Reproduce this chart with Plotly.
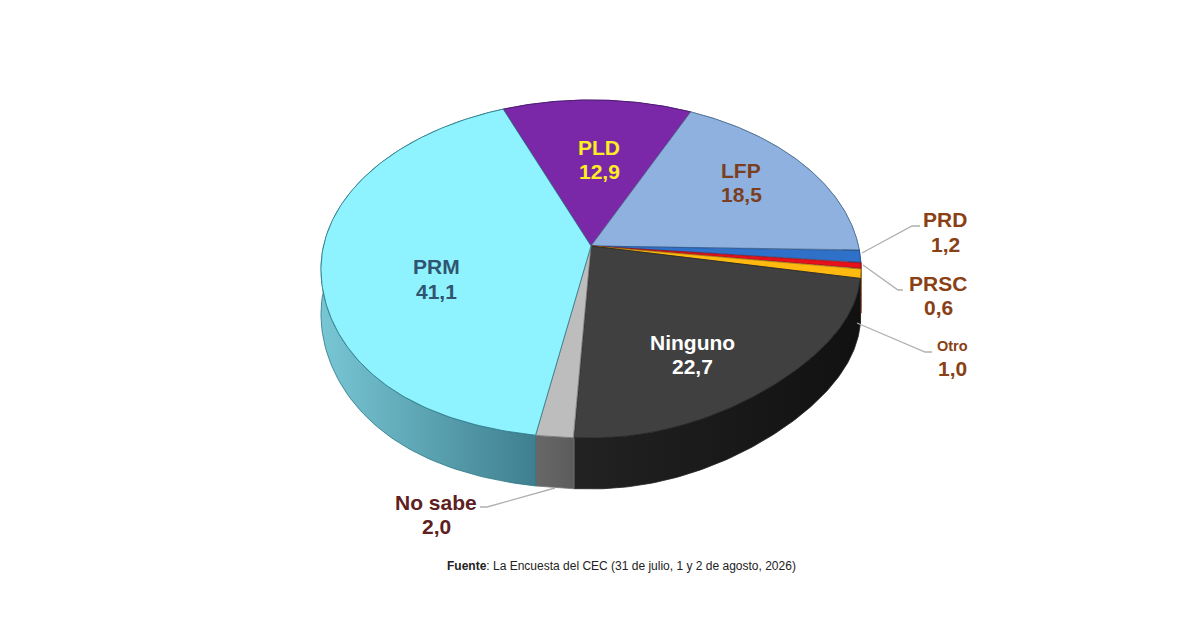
"""3D pie of the CEC survey, drawn as projected polygons so the tilt and perspective can be matched."""

import numpy as np
import plotly.graph_objects as go

# ── Data ─────────────────────────────────────────────────────────────────────

CATEGORIES = ["PLD", "LFP", "PRD", "PRSC", "Otro", "Ninguno", "No sabe", "PRM"]
VALUES = [12.9, 18.5, 1.2, 0.6, 1.0, 22.7, 2.0, 41.1]
VALUE_LABELS = ["12,9", "18,5", "1,2", "0,6", "1,0", "22,7", "2,0", "41,1"]

# ── Visual encoding ──────────────────────────────────────────────────────────

TOP_COLOR = ["#7a28a8", "#8eb1df", "#2f70c8", "#e8101a", "#ffb90f", "#404040", "#bdbdbd", "#8ff2ff"]
EDGE_COLOR = ["#4a1a70", "#51708f", "#24528f", "#90101a", "#a07a10", "#222222", "#777777", "#2a7686"]
WALL_LEFT = ["#55207a", "#6a8ab0", "#24528f", "#a00c14", "#c08c0a", "#222222", "#686868", "#78c6d4"]
WALL_RIGHT = ["#55207a", "#6a8ab0", "#24528f", "#a00c14", "#c08c0a", "#111111", "#5c5c5c", "#3f7f8f"]
TEXT_COLOR = ["#ffee22", "#7a3f22", "#8a4015", "#8a4015", "#8a4015", "#ffffff", "#5e2020", "#2f5570"]

FONT = "Liberation Sans"

# label centres, pixels: name then value
LABEL_POS = {
    "PLD": (599, 147, 171),
    "LFP": (741, 170, 194),
    "PRD": (945, 219, 244),
    "PRSC": (938, 283, 307),
    "Otro": (952, 346, 368),
    "Ninguno": (692, 342, 366),
    "No sabe": (436, 502, 526),
    "PRM": (436, 266, 291),
}

LEADERS = [
    [(862, 253), (912, 226), (920, 226)],
    [(863, 265), (898, 290), (903, 290)],
    [(857, 323), (925, 352), (932, 352)],
    [(555, 488), (487, 507), (480, 507)],
]

# ── Pie geometry ─────────────────────────────────────────────────────────────

CX, CY = 591, 246
RX, RY = 267.5, 165.9
PERSPECTIVE = 0.136
DEPTH = 44
START_DEG = -21.7
# the front of the disc is slightly skewed in the source: up on the right, down on the left
SKEW_RIGHT, SKEW_LEFT = 9, 6

# the page body has an 8px margin, so the figure sits at (8, 8) in the window
PAGE_MARGIN = 8
WIN_W, WIN_H = 1200, 630


def project(theta, lift=0.0):
    """Clockwise angle from the top of the disc -> pixel position."""
    u, v = np.sin(theta), np.cos(theta)
    w = 1 + PERSPECTIVE * v
    s2 = np.sin(2 * theta)
    skew = np.where(v < 0, s2 * np.abs(s2) * np.where(u > 0, SKEW_RIGHT, SKEW_LEFT), 0.0)
    return CX + RX * u / w, CY - RY * v / w + lift / w + skew


def slice_angles():
    edges = np.radians(START_DEG + np.cumsum([0] + VALUES) * 3.6)
    return list(zip(edges[:-1], edges[1:]))


def wall_trace(i, a0, a1):
    thetas = np.linspace(a0, a1, 120)
    x0, y0 = project(thetas)
    x1, y1 = project(thetas[::-1], DEPTH)
    return go.Scatter(
        x=np.r_[x0, x1, x0[0]],
        y=np.r_[y0, y1, y0[0]],
        mode="lines",
        fill="toself",
        fillgradient=dict(
            type="horizontal",
            colorscale=[[0, WALL_LEFT[i]], [1, WALL_RIGHT[i]]],
        ),
        line=dict(color=EDGE_COLOR[i], width=0.8),
        hoverinfo="skip",
        showlegend=False,
    )


def top_trace(i, a0, a1):
    thetas = np.linspace(a0, a1, 160)
    x, y = project(thetas)
    return go.Scatter(
        x=np.r_[CX, x, CX],
        y=np.r_[CY, y, CY],
        mode="lines",
        fill="toself",
        fillcolor=TOP_COLOR[i],
        line=dict(color=EDGE_COLOR[i], width=0.8),
        name=CATEGORIES[i],
        hoverinfo="name",
        showlegend=False,
    )


angles = slice_angles()
# back walls first, the front ones land on top and the disc hides the rest
traces = [wall_trace(i, *angles[i]) for i in range(len(VALUES))]
traces += [top_trace(i, *angles[i]) for i in range(len(VALUES))]

fig = go.Figure(data=traces)

for pts in LEADERS:
    fig.add_trace(go.Scatter(
        x=[p[0] for p in pts],
        y=[p[1] for p in pts],
        mode="lines",
        line=dict(color="#b0b0b0", width=1.3),
        hoverinfo="skip",
        showlegend=False,
    ))

for i, cat in enumerate(CATEGORIES):
    x, y_name, y_val = LABEL_POS[cat]
    name_size = 14.5 if cat == "Otro" else 21
    fig.add_annotation(x=x, y=y_name, text=f"<b>{cat}</b>", showarrow=False,
                       font=dict(family=FONT, size=name_size, color=TEXT_COLOR[i]))
    fig.add_annotation(x=x, y=y_val, text=f"<b>{VALUE_LABELS[i]}</b>", showarrow=False,
                       font=dict(family=FONT, size=21, color=TEXT_COLOR[i]))

fig.add_annotation(
    x=621.5, y=566,
    text="<b>Fuente</b>: La Encuesta del CEC (31 de julio, 1 y 2 de agosto, 2026)",
    showarrow=False,
    font=dict(family=FONT, size=12, color="#222222"),
)

# faint strip along the right edge of the image
fig.add_shape(type="rect", x0=1197, x1=WIN_W, y0=PAGE_MARGIN, y1=WIN_H,
              line=dict(width=0), fillcolor="#eef8ee", layer="below")

fig.update_layout(
    width=WIN_W - PAGE_MARGIN,
    height=WIN_H - PAGE_MARGIN,
    margin=dict(l=0, r=0, t=0, b=0),
    paper_bgcolor="#ffffff",
    plot_bgcolor="#ffffff",
    showlegend=False,
    xaxis=dict(range=[PAGE_MARGIN, WIN_W], visible=False, fixedrange=True),
    yaxis=dict(range=[WIN_H, PAGE_MARGIN], visible=False, fixedrange=True),
)

fig.write_html("out.html")
